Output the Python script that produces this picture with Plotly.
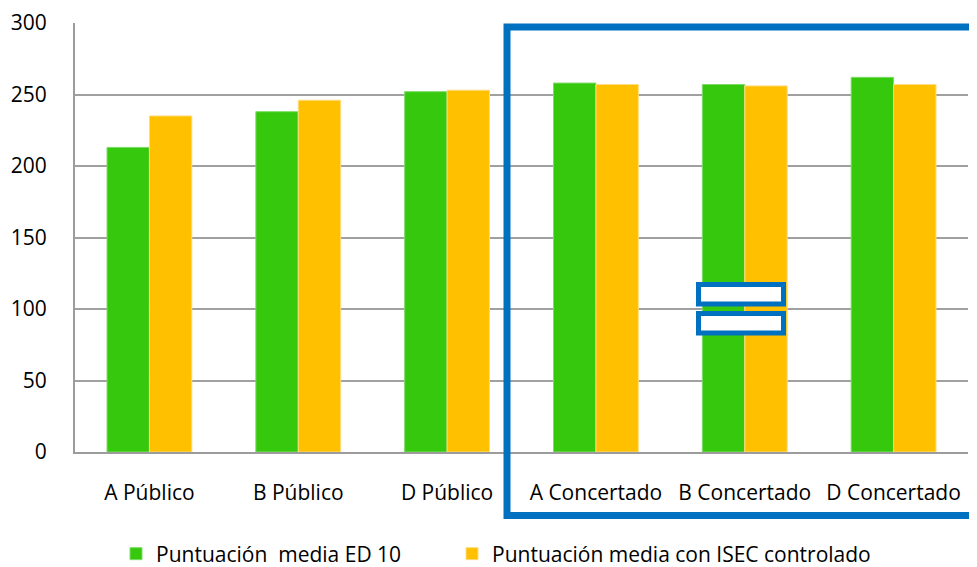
import plotly.graph_objects as go

categories = ["A Público", "B Público", "D Público", "A Concertado", "B Concertado", "D Concertado"]
serie_ed10 = [213, 238, 252, 258, 257, 262]
serie_isec = [235, 246, 253, 257, 256, 257]
name_ed10 = "Puntuación\u00a0 media ED 10"
name_isec = "Puntuación media con ISEC controlado"
y_ticks = [0, 50, 100, 150, 200, 250, 300]

OFF = 8  # page body margin in the browser
W, H = 977 - OFF, 567 - OFF
L, T = 75 - OFF, 23 - OFF
pw, ph = 893, 429
R = W - L - pw
B = H - T - ph

def px_x(x):
    return (x - OFF - L) / pw

def px_y(y):
    return (T + ph - (y - OFF)) / ph

fig = go.Figure()
fig.add_trace(go.Bar(x=categories, y=serie_ed10, name=name_ed10, legend="legend",
                     marker=dict(color="#36C80C", line=dict(color="#7EDB68", width=1))))
fig.add_trace(go.Bar(x=categories, y=serie_isec, name=name_isec, legend="legend2",
                     marker=dict(color="#FFC000", line=dict(color="#FFDC80", width=1))))

font = dict(family="Open Sans", size=21, color="#000000")
lfont = dict(family="Open Sans", size=21, color="#000000")

fig.update_layout(
    width=W, height=H,
    margin=dict(l=L, r=R, t=T, b=B, pad=0, autoexpand=False),
    paper_bgcolor="white", plot_bgcolor="white",
    barmode="group", bargap=0.43, bargroupgap=0,
    font=font,
    showlegend=True,
    legend=dict(orientation="h", x=px_x(116), xanchor="left", y=px_y(554), yanchor="middle",
                font=lfont, bgcolor="rgba(0,0,0,0)"),
    legend2=dict(orientation="h", x=px_x(452), xanchor="left", y=px_y(554), yanchor="middle",
                 font=lfont, bgcolor="rgba(0,0,0,0)"),
    xaxis=dict(showline=True, linecolor="#9C9C9C", linewidth=2, showgrid=False, automargin=False,
               ticks="", tickfont=font, ticklabelstandoff=21, fixedrange=True),
    yaxis=dict(range=[0, 300], tickvals=y_ticks, showline=True, linecolor="#9C9C9C", linewidth=2,
               showgrid=True, gridcolor="#A0A0A0", gridwidth=2, zeroline=False, automargin=False,
               ticks="", tickfont=font, ticklabelstandoff=22),
)

blue = "#0070C0"
shapes = [
    dict(type="rect", xref="paper", yref="paper",
         x0=px_x(507), x1=px_x(985), y0=px_y(515.5), y1=px_y(27),
         line=dict(color=blue, width=7), fillcolor="rgba(0,0,0,0)", layer="above"),
    dict(type="rect", xref="paper", yref="paper",
         x0=px_x(698.5), x1=px_x(783.5), y0=px_y(304), y1=px_y(284.5),
         line=dict(color=blue, width=5), fillcolor="white", layer="above"),
    dict(type="rect", xref="paper", yref="paper",
         x0=px_x(698.5), x1=px_x(783.5), y0=px_y(333), y1=px_y(313.5),
         line=dict(color=blue, width=5), fillcolor="white", layer="above"),
]
fig.update_layout(shapes=shapes)

fig.write_html("out.html")
